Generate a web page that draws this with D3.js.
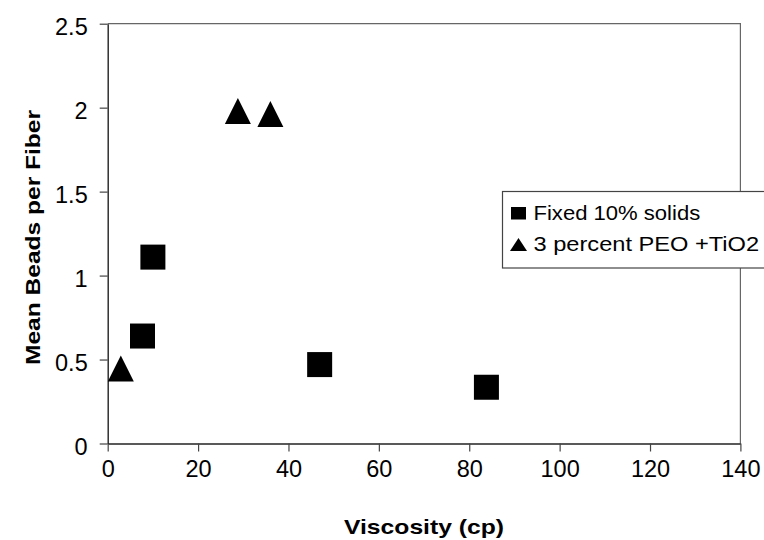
<!DOCTYPE html>
<html lang="en">
<head>
    <meta charset="UTF-8">
    <title>Mean Beads per Fiber vs Viscosity</title>
    <script src="https://d3js.org/d3.v7.min.js"></script>
    <style>
        body {
            margin: 0;
            background: #fff;
            font-family: "Liberation Sans", Arial, sans-serif;
        }
        svg { display: block; }
    </style>
</head>
<body>
<main></main>
<script>
    // data
    var fixedX = [10.0, 7.7, 46.9, 83.8];
    var fixedY = [1.11, 0.64, 0.47, 0.335];
    var peoX = [2.9, 28.8, 36.0];
    var peoY = [0.447, 1.98, 1.962];
    var xTicks = [0, 20, 40, 60, 80, 100, 120, 140];
    var yTicks = [0, 0.5, 1, 1.5, 2, 2.5];
    var seriesNames = ['Fixed 10% solids', '3 percent PEO +TiO2'];

    var w = 764, h = 540;
    var m = {top: 23.7, left: 107.7, bottom: 96.5, right: 23.6};
    var innerW = w - m.left - m.right;
    var innerH = h - m.top - m.bottom;

    var xScale = d3.scaleLinear().domain([0, 140]).range([0, innerW]);
    var yScale = d3.scaleLinear().domain([0, 2.5]).range([innerH, 0]);

    var svg = d3.select('main').append('svg')
        .attr('width', w)
        .attr('height', h);

    var g = svg.append('g')
        .attr('transform', 'translate(' + m.left + ',' + m.top + ')');

    // plot frame (top + right)
    g.append('path')
        .attr('d', 'M0,0H' + innerW + 'V' + innerH)
        .attr('fill', 'none')
        .attr('stroke', '#666')
        .attr('stroke-width', 1.2);

    var xAxis = d3.axisBottom(xScale).tickValues(xTicks).tickSize(8).tickPadding(9).tickSizeOuter(0);
    var yAxis = d3.axisLeft(yScale).tickValues(yTicks).tickSize(8).tickPadding(12)
        .tickSizeOuter(0).tickFormat(d3.format(''));

    var gx = g.append('g')
        .attr('transform', 'translate(0,' + innerH + ')')
        .call(xAxis);
    var gy = g.append('g').call(yAxis);

    [gx, gy].forEach(function(a){
        a.select('.domain').attr('stroke', '#222').attr('stroke-width', 1.4);
        a.selectAll('.tick line').attr('stroke', '#444').attr('stroke-width', 1.2);
        a.selectAll('.tick text')
            .attr('fill', '#000')
            .style('font-family', '"Liberation Sans", Arial, sans-serif')
            .style('font-size', '23.5px');
    });
    gy.selectAll('.tick text').attr('dy', '0.45em');

    // markers
    var fixed = fixedX.map(function(x, i){ return {x: x, y: fixedY[i]}; });
    var peo = peoX.map(function(x, i){ return {x: x, y: peoY[i]}; });

    var sq = 25;
    g.append('g').selectAll('rect')
        .data(fixed)
        .enter()
        .append('rect')
        .attr('x', function(d){ return xScale(d.x) - sq/2; })
        .attr('y', function(d){ return yScale(d.y) - sq/2; })
        .attr('width', sq)
        .attr('height', sq)
        .attr('fill', '#000');

    var tri = 26;
    function triPath(cx, cy, s, hgt){
        hgt = hgt || s;
        return 'M' + cx + ',' + (cy - hgt/2) + 'L' + (cx + s/2) + ',' + (cy + hgt/2) + 'L' + (cx - s/2) + ',' + (cy + hgt/2) + 'Z';
    }
    g.append('g').selectAll('path')
        .data(peo)
        .enter()
        .append('path')
        .attr('d', function(d){ return triPath(xScale(d.x), yScale(d.y), tri); })
        .attr('fill', '#000');

    // legend
    var lg = svg.append('g').attr('transform', 'translate(502.5,191.5)');
    lg.append('rect')
        .attr('width', 290)
        .attr('height', 76.5)
        .attr('fill', '#fff')
        .attr('stroke', '#444')
        .attr('stroke-width', 1.2);
    lg.append('rect').attr('x', 8.5).attr('y', 15.5).attr('width', 15).attr('height', 12.5).attr('fill', '#000');
    lg.append('path').attr('d', triPath(16, 53, 17, 13)).attr('fill', '#000');
    var legendLen = [166.7, 225.6];
    seriesNames.forEach(function(s, i){
        lg.append('text')
            .attr('x', 31)
            .attr('y', 28 + i * 31.5)
            .attr('textLength', legendLen[i])
            .attr('lengthAdjust', 'spacingAndGlyphs')
            .style('font-size', '20.5px')
            .text(s);
    });

    // axis titles
    svg.append('text')
        .attr('x', 344)
        .attr('y', 534)
        .attr('textLength', 160)
        .attr('lengthAdjust', 'spacingAndGlyphs')
        .style('font-size', '21px')
        .style('font-weight', 'bold')
        .text('Viscosity (cp)');

    svg.append('text')
        .attr('transform', 'translate(39.5,365) rotate(-90)')
        .attr('textLength', 255)
        .attr('lengthAdjust', 'spacingAndGlyphs')
        .style('font-size', '20.5px')
        .style('font-weight', 'bold')
        .text('Mean Beads per Fiber');
</script>
</body>
</html>
